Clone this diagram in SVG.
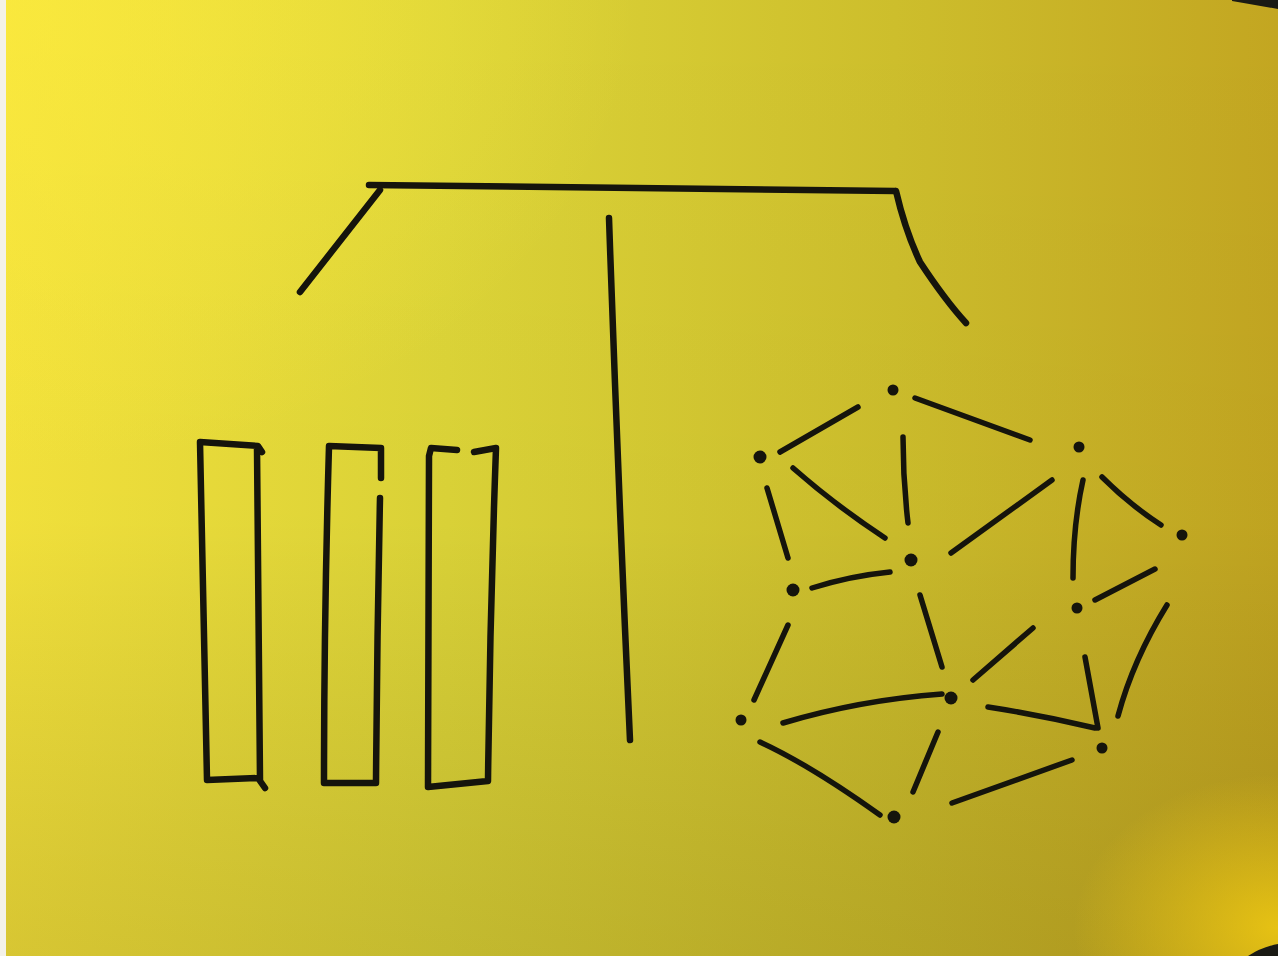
<svg xmlns="http://www.w3.org/2000/svg" width="1278" height="956" viewBox="0 0 1278 956">
<defs>
<linearGradient id="bgx" x1="0" y1="0" x2="1" y2="0">
<stop offset="0" stop-color="#F6E43C"/>
<stop offset="0.35" stop-color="#DDD538"/>
<stop offset="0.7" stop-color="#CDBE2C"/>
<stop offset="1" stop-color="#C3A621"/>
</linearGradient>
<linearGradient id="bgy" x1="0" y1="0" x2="0" y2="1">
<stop offset="0" stop-color="#000" stop-opacity="0"/>
<stop offset="0.55" stop-color="#000" stop-opacity="0.02"/>
<stop offset="1" stop-color="#3a2a00" stop-opacity="0.16"/>
</linearGradient>
<radialGradient id="br" cx="1" cy="0.97" r="0.16">
<stop offset="0" stop-color="#F0CA12" stop-opacity="0.85"/>
<stop offset="1" stop-color="#F0CA12" stop-opacity="0"/>
</radialGradient>
<radialGradient id="tl" cx="0" cy="0" r="0.5">
<stop offset="0" stop-color="#FCEB3E" stop-opacity="0.6"/>
<stop offset="1" stop-color="#FCEB3E" stop-opacity="0"/>
</radialGradient>
<style>
.ink{fill:none;stroke:#15140c;stroke-width:6.5;stroke-linecap:round;stroke-linejoin:round}
.edge{fill:none;stroke:#15140c;stroke-width:5.5;stroke-linecap:round}
.dot{fill:#15140c}
</style>
</defs>
<rect width="1278" height="956" fill="url(#bgx)"/>
<rect width="1278" height="956" fill="url(#bgy)"/>
<rect width="1278" height="956" fill="url(#tl)"/>
<rect width="1278" height="956" fill="url(#br)"/>
<rect x="0" y="0" width="6" height="956" fill="#F4F2E8"/>
<path d="M1232 0 L1278 0 L1278 9 Q1255 5 1232 1 Z" fill="#1a1a14"/>
<path d="M1248 956 Q1262 947 1278 944 L1278 956 Z" fill="#1a1a14"/>

<g id="frame">
<path class="ink" d="M369 185 L895 191"/>
<path class="ink" d="M380 190 L300 292"/>
<path class="ink" d="M896 191 Q905 230 920 262 Q945 300 966 323"/>
</g>
<g id="divider">
<path class="ink" d="M609 218 Q618 480 630 740"/>
</g>
<g id="rect1">
<path class="ink" d="M200 442 L258 446 L262 452 M200 442 Q204 610 207 780 L258 778 L265 788 M257 448 Q258 620 260 780"/>
</g>
<g id="rect2">
<path class="ink" d="M381 478 L381 448 L329 446 Q324 620 324 783 L376 783 Q377 640 380 498"/>
</g>
<g id="rect3">
<path class="ink" d="M457 450 L431 448 L429 456 Q428 620 428 787 L488 781 Q490 615 496 448 L474 452"/>
</g>

<g id="connectors">
<path class="edge" d="M780 452 L858 407"/>
<path class="edge" d="M915 398 L1030 440"/>
<path class="edge" d="M903 437 Q903 480 908 523"/>
<path class="edge" d="M793 468 Q835 505 885 538"/>
<path class="edge" d="M767 488 L788 558"/>
<path class="edge" d="M1052 480 L951 553"/>
<path class="edge" d="M1083 480 Q1073 525 1073 578"/>
<path class="edge" d="M1102 477 Q1130 505 1161 525"/>
<path class="edge" d="M812 588 Q850 576 890 572"/>
<path class="edge" d="M1155 569 L1095 600"/>
<path class="edge" d="M1167 605 Q1133 660 1118 716"/>
<path class="edge" d="M920 595 L942 667"/>
<path class="edge" d="M1033 628 L973 680"/>
<path class="edge" d="M1085 657 L1098 728"/>
<path class="edge" d="M788 625 L754 700"/>
<path class="edge" d="M783 723 Q860 700 942 694"/>
<path class="edge" d="M988 707 Q1040 715 1095 728"/>
<path class="edge" d="M938 732 L913 792"/>
<path class="edge" d="M760 742 Q810 765 880 815"/>
<path class="edge" d="M1072 760 L952 803"/>
</g>

<g id="n1"><circle class="dot" cx="893" cy="390" r="5.5"/></g>
<g id="n2"><circle class="dot" cx="760" cy="457" r="6.5"/></g>
<g id="n3"><circle class="dot" cx="1079" cy="447" r="5.5"/></g>
<g id="n4"><circle class="dot" cx="911" cy="560" r="6.5"/></g>
<g id="n5"><circle class="dot" cx="1182" cy="535" r="5.5"/></g>
<g id="n6"><circle class="dot" cx="793" cy="590" r="6.5"/></g>
<g id="n7"><circle class="dot" cx="1077" cy="608" r="5.5"/></g>
<g id="n8"><circle class="dot" cx="951" cy="698" r="6.5"/></g>
<g id="n9"><circle class="dot" cx="741" cy="720" r="5.5"/></g>
<g id="n10"><circle class="dot" cx="1102" cy="748" r="5.5"/></g>
<g id="n11"><circle class="dot" cx="894" cy="817" r="6.5"/></g>
</svg>
